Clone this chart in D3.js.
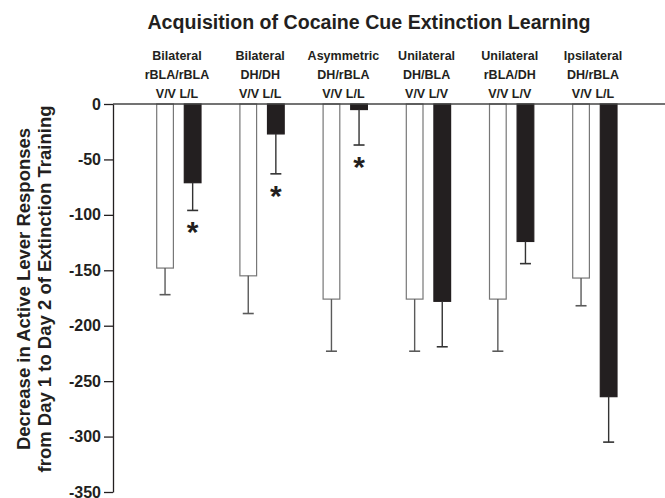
<!DOCTYPE html>
<html>
<head>
<meta charset="utf-8">
<script src="https://cdn.jsdelivr.net/npm/d3@7"></script>
<style>
  body { margin: 0; background: #fff; }
  svg { display: block; }
  text { font-family: "Liberation Sans", Arial, Helvetica, sans-serif; font-weight: bold; fill: #231f20; }
</style>
</head>
<body>
<div id="chart"></div>
<script>
// ---- data ----
const groups = ["G1", "G2", "G3", "G4", "G5", "G6"];
const groupLine1 = ["Bilateral", "Bilateral", "Asymmetric", "Unilateral", "Unilateral", "Ipsilateral"];
const groupLine2 = ["rBLA/rBLA", "DH/DH", "DH/rBLA", "DH/BLA", "rBLA/DH", "DH/rBLA"];
const groupLine3 = ["V/V L/L", "V/V L/L", "V/V L/L", "V/V L/V", "V/V L/V", "V/V L/L"];
const seriesKeys = ["V/V", "Drug"];
const vvMeans  = [-148, -155, -176, -176, -176, -157];
const vvErr    = [24, 34, 47, 47, 47, 25];
const drugMeans = [-71, -27, -5, -178, -124, -264];
const drugErr   = [25, 36, 32, 41, 20, 41];
const significant = [true, true, true, false, false, false];
const yTicks = [0, -50, -100, -150, -200, -250, -300, -350];
const yTickLabels = ["0", "-50", "-100", "-150", "-200", "-250", "-300", "-350"];
const title = "Acquisition of Cocaine Cue Extinction Learning";
const yLabel1 = "Decrease in Active Lever Responses";
const yLabel2 = "from Day 1 to Day 2 of Extinction Training";

// ---- layout ----
const W = 665, H = 498;
const svg = d3.select("#chart").append("svg").attr("width", W).attr("height", H);

const y = d3.scaleLinear().domain([-350, 0]).range([492, 104]);
const x0 = d3.scaleBand().domain(groups).range([137.4, 636.6]).padding(0);
const x1 = d3.scaleBand().domain(seriesKeys).range([19.3, 63.6]).paddingInner(0.395).paddingOuter(0);

const axisX = 113;

// title
svg.append("text").attr("x", 369).attr("y", 28.5).attr("text-anchor", "middle")
  .attr("font-size", 19.6).text(title);

// group labels
const gl = svg.append("g");
groups.forEach((g, i) => {
  const cx = x0(g) + x0.bandwidth() / 2 - 2;
  gl.append("text").attr("x", cx).attr("y", 59.5).attr("font-size", 12.5).attr("text-anchor", "middle").text(groupLine1[i]);
  gl.append("text").attr("x", cx).attr("y", 78.5).attr("font-size", 12.5).attr("text-anchor", "middle").text(groupLine2[i]);
  gl.append("text").attr("x", cx).attr("y", 97.5).attr("font-size", 12.5).attr("text-anchor", "middle").text(groupLine3[i]);
});

// bars
const data = groups.map((g, i) => ({
  g, vals: [
    { key: "V/V", mean: vvMeans[i], err: vvErr[i] },
    { key: "Drug", mean: drugMeans[i], err: drugErr[i] }
  ], sig: significant[i]
}));

const gg = svg.append("g").selectAll("g").data(data).join("g")
  .attr("transform", d => `translate(${x0(d.g)},0)`);

gg.selectAll("rect").data(d => d.vals).join("rect")
  .attr("x", d => x1(d.key))
  .attr("width", x1.bandwidth())
  .attr("y", y(0))
  .attr("height", d => y(d.mean) - y(0))
  .attr("fill", d => d.key === "V/V" ? "#ffffff" : "#231f20")
  .attr("stroke", d => d.key === "V/V" ? "#777" : "#231f20")
  .attr("stroke-width", 1.2);

// error bars (downward only)
gg.selectAll("g.err").data(d => d.vals).join("g").attr("class", "err").each(function(d) {
  const cx = x1(d.key) + x1.bandwidth() / 2;
  const col = d.key === "V/V" ? "#5a5a5a" : "#333";
  const sel = d3.select(this);
  sel.append("line").attr("x1", cx).attr("x2", cx)
    .attr("y1", y(d.mean)).attr("y2", y(d.mean - d.err))
    .attr("stroke", col).attr("stroke-width", 1.4);
  sel.append("line").attr("x1", cx - 5.5).attr("x2", cx + 5.5)
    .attr("y1", y(d.mean - d.err)).attr("y2", y(d.mean - d.err))
    .attr("stroke", col).attr("stroke-width", 1.6);
});

// significance asterisks
gg.filter(d => d.sig).append("text")
  .attr("x", d => x1("Drug") + x1.bandwidth() / 2)
  .attr("y", d => y(d.vals[1].mean - d.vals[1].err) + 32)
  .attr("text-anchor", "middle")
  .attr("font-size", 30)
  .text("*");

// top zero line
svg.append("line").attr("x1", axisX).attr("x2", W).attr("y1", y(0)).attr("y2", y(0))
  .attr("stroke", "#444").attr("stroke-width", 1.3);

// y axis
const yAxis = d3.axisLeft(y).tickValues(yTicks)
  .tickFormat((d, i) => yTickLabels[i]).tickSize(9).tickSizeOuter(0).tickPadding(3);
const ya = svg.append("g").attr("transform", `translate(${axisX},0)`).call(yAxis);
ya.select(".domain").attr("stroke", "#231f20").attr("stroke-width", 1.3);
ya.selectAll(".tick line").attr("stroke", "#231f20").attr("stroke-width", 1.3);
ya.selectAll(".tick text").attr("font-size", 16).attr("font-family", '"Liberation Sans", Arial, sans-serif')
  .attr("font-weight", "bold").attr("fill", "#231f20");

// y labels
svg.append("text").attr("transform", `translate(30,289) rotate(-90)`)
  .attr("text-anchor", "middle").attr("font-size", 18.5).text(yLabel1);
svg.append("text").attr("transform", `translate(51,289) rotate(-90)`)
  .attr("text-anchor", "middle").attr("font-size", 18.5).text(yLabel2);
</script>
</body>
</html>
